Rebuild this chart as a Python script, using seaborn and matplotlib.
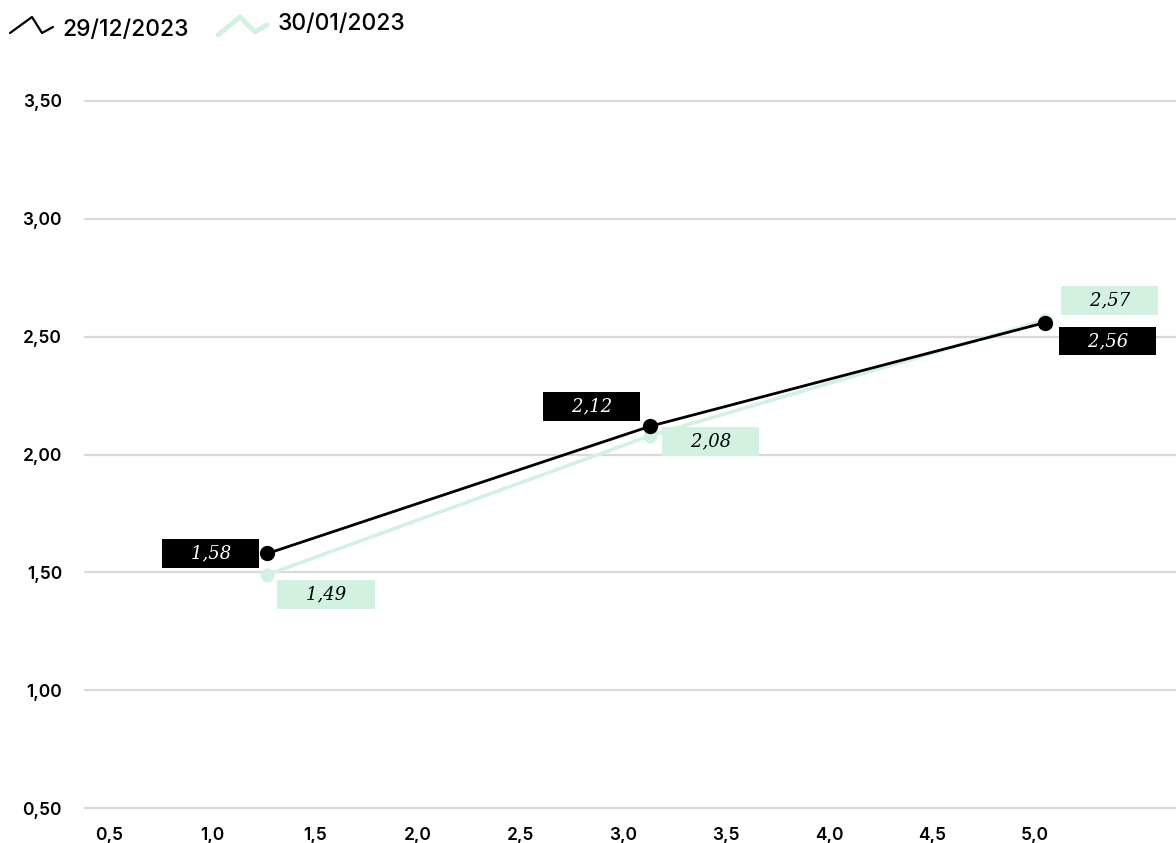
import matplotlib
matplotlib.use("Agg")
import matplotlib.pyplot as plt
from matplotlib.lines import Line2D
import seaborn as sns
import pandas as pd

# Series: maturity (years) vs yield (%)
maturity = [1.27, 3.13, 5.05]
yield_dec = [1.58, 2.12, 2.56]
yield_jan = [1.49, 2.08, 2.57]
series_names = ["29/12/2023", "30/01/2023"]

x_ticks = [0.5, 1.0, 1.5, 2.0, 2.5, 3.0, 3.5, 4.0, 4.5, 5.0]
y_ticks = [0.5, 1.0, 1.5, 2.0, 2.5, 3.0, 3.5]

BLACK = "#000000"
MINT = "#d3f1e1"
GRID = "#d9d9d9"

sns.set_theme(style="white")
plt.rcParams["font.family"] = ["Inter", "DejaVu Sans"]

df = pd.DataFrame({
    "maturity": maturity * 2,
    "yield": yield_dec + yield_jan,
    "series": [series_names[0]] * 3 + [series_names[1]] * 3,
})

fig = plt.figure(figsize=(11.76, 8.43), dpi=100)
ax = fig.add_axes([0.0723, 0.0415, 0.9277, 0.8387])

# draw the light series first so the black one sits on top
for name, color, lw, ms in [(series_names[1], MINT, 2.6, 10),
                            (series_names[0], BLACK, 2.0, 11)]:
    sns.lineplot(data=df[df["series"] == name], x="maturity", y="yield",
                 color=color, linewidth=lw, marker="o", markersize=ms,
                 markeredgewidth=0, ax=ax, legend=False, zorder=3)

ax.set_xlim(0.3834, 5.685)
ax.set_ylim(0.5, 3.5)
ax.set_xticks(x_ticks)
ax.set_yticks(y_ticks)
ax.set_xticklabels([f"{v:.1f}".replace(".", ",") for v in x_ticks])
ax.set_yticklabels([f"{v:.2f}".replace(".", ",") for v in y_ticks])
ax.set_xlabel("")
ax.set_ylabel("")
for s in ax.spines.values():
    s.set_visible(False)
ax.tick_params(axis="both", length=0, labelsize=12.5, labelcolor=BLACK)
ax.tick_params(axis="y", pad=16.5)
ax.tick_params(axis="x", pad=13.5)
for lab in ax.get_xticklabels() + ax.get_yticklabels():
    lab.set_fontweight("semibold")
ax.yaxis.grid(True, color=GRID, linewidth=1.6)
ax.xaxis.grid(False)
for gl in ax.get_ygridlines():
    gl.set_clip_on(False)
ax.set_axisbelow(True)

# value labels in boxes
pad_pt = 3.9
pad_px = pad_pt * 100 / 72
label_specs = [
    # x, y, text colour, box colour, ha, va, dx, dy
    (maturity[0], yield_dec[0], "white", BLACK, "right", "center", -(8 + pad_px), 0),
    (maturity[0], yield_jan[0], BLACK, MINT, "left", "top", 10 + pad_px, -(5 + pad_px)),
    (maturity[1], yield_dec[1], "white", BLACK, "right", "bottom", -(10 + pad_px), 5 + pad_px),
    (maturity[1], yield_jan[1], BLACK, MINT, "left", "center", 12 + pad_px, -6),
    (maturity[2], yield_jan[2], BLACK, MINT, "left", "bottom", 16 + pad_px, 5 + pad_px),
    (maturity[2], yield_dec[2], "white", BLACK, "left", "top", 14 + pad_px, -(4 + pad_px)),
]
for x, y, tc, bc, ha, va, dx, dy in label_specs:
    txt = "    " + f"{y:.2f}".replace(".", ",") + "    "
    ax.annotate(txt, xy=(x, y), xytext=(dx, dy), textcoords="offset pixels",
                ha=ha, va=va, fontsize=13, fontstyle="italic",
                family=["DejaVu Serif"], color=tc, zorder=5,
                bbox=dict(boxstyle=f"square,pad={pad_pt / 13:.3f}", fc=bc, ec="none"))

# legend drawn at the top-left of the figure
W, H = 1176, 843
def fx(px):
    return px / W
def fy(py):
    return 1 - py / H

fig.add_artist(Line2D([fx(10), fx(32), fx(42), fx(53)],
                      [fy(33), fy(17), fy(33), fy(27)],
                      color=BLACK, linewidth=1.6, transform=fig.transFigure))
fig.text(fx(62), fy(30), series_names[0], fontsize=16.5, fontweight="medium",
         color=BLACK, ha="left", va="center")
fig.add_artist(Line2D([fx(218), fx(240), fx(255), fx(267)],
                      [fy(35), fy(17), fy(32), fy(25)],
                      color=MINT, linewidth=3.6, solid_capstyle="round",
                      solid_joinstyle="round", transform=fig.transFigure))
fig.text(fx(278), fy(24), series_names[1], fontsize=16.5, fontweight="medium",
         color=BLACK, ha="left", va="center")

fig.savefig("out.png", dpi=100)
